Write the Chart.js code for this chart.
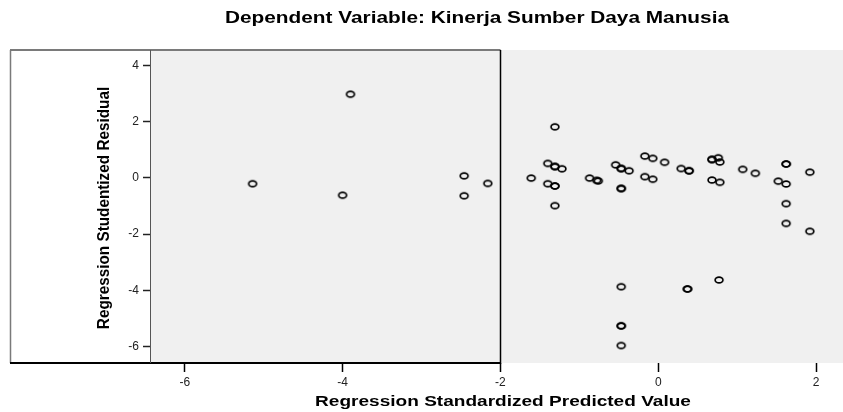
<!DOCTYPE html>
<html>
<head>
<meta charset="utf-8">
<script src="https://cdn.jsdelivr.net/npm/chart.js@4.4.0/dist/chart.umd.min.js"></script>
<style>
  html, body { margin: 0; padding: 0; background: #ffffff; }
  #wrap { width: 843px; height: 412px; }
</style>
</head>
<body>
<div id="wrap"><canvas id="chart" width="843" height="412"></canvas></div>
<script>
// ===== DATA =====
const chartTitle = 'Dependent Variable: Kinerja Sumber Daya Manusia';
const xTitle = 'Regression Standardized Predicted Value';
const yTitle = 'Regression Studentized Residual';
const xTicks = [-6, -4, -2, 0, 2];
const yTicks = [-6, -4, -2, 0, 2, 4];

// standardized predicted values (x) and studentized residuals (y)
const predicted = [
    -5.14, -3.90, -4.00, -2.46, -2.46, -2.16,
    -1.61, -1.40, -1.31, -1.31, -1.22, -1.40, -1.31, -1.31, -1.31, -1.31,
    -0.87, -0.78, -0.76, -0.54, -0.47, -0.47, -0.37, -0.47, -0.47,
    -0.17, -0.07, 0.08, -0.17, -0.07, 0.29, 0.39, 0.39,
    0.68, 0.68, 0.76, 0.78, 0.68, 0.78, 1.07, 1.23,
    1.62, 1.62, 1.52, 1.62, 1.92, 1.62, 1.62, 1.92,
    -0.47, 0.37, 0.37, 0.77, -0.47, -0.47, -0.47
];
const residual = [
    -0.21, 2.97, -0.62, 0.07, -0.64, -0.20,
    -0.01, 0.51, 0.40, 0.40, 0.32, -0.21, -0.29, -0.29, 1.81, -0.99,
    -0.01, -0.09, -0.11, 0.46, 0.33, 0.33, 0.25, -0.38, -0.38,
    0.77, 0.69, 0.55, 0.04, -0.05, 0.33, 0.25, 0.25,
    0.65, 0.65, 0.71, 0.56, -0.08, -0.16, 0.30, 0.16,
    0.49, 0.49, -0.12, -0.22, 0.20, -0.92, -1.62, -1.90,
    -3.87, -3.95, -3.95, -3.63, -5.26, -5.26, -5.96
];

const FONT = '"Liberation Sans", Arial, sans-serif';

// ===== MARKER =====
// small open ellipse like the SPSS marker (picture is stretched sideways)
function make_marker() {
    const c = document.createElement('canvas');
    c.width = 12;
    c.height = 10;
    const g = c.getContext('2d');
    g.strokeStyle = '#000000';
    g.lineWidth = 1.7;
    g.beginPath();
    g.ellipse(6, 5, 3.9, 2.9, 0, 0, Math.PI * 2);
    g.stroke();
    return c;
}

// draw text stretched horizontally (as in the reference)
function stretched_text(ctx, text, x, y, size, sx) {
    ctx.save();
    ctx.translate(x, y);
    ctx.scale(sx, 1);
    ctx.font = 'bold ' + size + 'px ' + FONT;
    ctx.fillText(text, 0, 0);
    ctx.restore();
}

// ===== PLUGINS =====
const frame_plugin = {
    id: 'frame',
    beforeDraw(chart) {
        const { ctx, chartArea } = chart;
        ctx.save();
        ctx.fillStyle = '#f0f0f0';
        ctx.fillRect(chartArea.left, chartArea.top,
                     chart.width - chartArea.left, chartArea.bottom - chartArea.top);
        ctx.restore();
    },
    afterDraw(chart) {
        const { ctx, chartArea, scales } = chart;
        const xr = Math.round(scales.x.getPixelForValue(-2)) + 0.5;
        const top = chartArea.top;
        const bottom = chartArea.bottom;
        ctx.save();
        // top border
        ctx.strokeStyle = '#7a7a7a';
        ctx.lineWidth = 2;
        ctx.beginPath();
        ctx.moveTo(10, top);
        ctx.lineTo(xr, top);
        ctx.stroke();
        // left outer border
        ctx.lineWidth = 1.5;
        ctx.beginPath();
        ctx.moveTo(10.5, top);
        ctx.lineTo(10.5, bottom);
        ctx.stroke();
        // bottom border
        ctx.strokeStyle = '#000000';
        ctx.lineWidth = 2;
        ctx.beginPath();
        ctx.moveTo(10, bottom);
        ctx.lineTo(xr, bottom);
        ctx.stroke();
        // right border (at x = -2)
        ctx.lineWidth = 1.5;
        ctx.beginPath();
        ctx.moveTo(xr, top);
        ctx.lineTo(xr, bottom + 1);
        ctx.stroke();
        // y axis line
        ctx.strokeStyle = '#555555';
        ctx.lineWidth = 1;
        ctx.beginPath();
        ctx.moveTo(chartArea.left + 0.5, top);
        ctx.lineTo(chartArea.left + 0.5, bottom);
        ctx.stroke();

        // texts
        ctx.fillStyle = '#000000';
        ctx.textAlign = 'center';
        ctx.textBaseline = 'middle';
        stretched_text(ctx, chartTitle, 477, 19, 16, 1.3);
        stretched_text(ctx, xTitle, 503, 402, 15, 1.27);
        // y title: rotated, glyphs slightly widened sideways
        ctx.translate(104, 208);
        ctx.rotate(-Math.PI / 2);
        ctx.scale(1.02, 1.1);
        ctx.font = 'bold 15px ' + FONT;
        ctx.fillText(yTitle, 0, 0);
        ctx.restore();
    }
};

// ===== CHART =====
function init_chart() {
    const ctx = document.getElementById('chart').getContext('2d');
    const points = predicted.map((x, i) => ({ x: x, y: residual[i] }));
    const marker = make_marker();

    new Chart(ctx, {
        type: 'scatter',
        data: {
            datasets: [{
                data: points,
                pointStyle: marker,
                pointRadius: 4,
                pointHoverRadius: 4
            }]
        },
        options: {
            responsive: false,
            animation: false,
            layout: { padding: { left: 10, right: 0, top: 50, bottom: 0 } },
            plugins: {
                legend: { display: false },
                tooltip: { enabled: false }
            },
            scales: {
                x: {
                    type: 'linear',
                    min: -6.44,
                    max: 2.277,
                    afterBuildTicks: (scale) => {
                        scale.ticks = xTicks.map(v => ({ value: v }));
                    },
                    afterFit: (scale) => { scale.height = 49; },
                    border: { display: false },
                    grid: {
                        drawOnChartArea: false,
                        drawTicks: true,
                        tickLength: 9,
                        tickWidth: 1.5,
                        tickColor: '#000000'
                    },
                    ticks: {
                        color: '#222222',
                        padding: 3,
                        maxRotation: 0,
                        font: { family: FONT, size: 12 }
                    }
                },
                y: {
                    type: 'linear',
                    min: -6.58,
                    max: 4.54,
                    afterBuildTicks: (scale) => {
                        scale.ticks = yTicks.map(v => ({ value: v }));
                    },
                    afterFit: (scale) => { scale.width = 140; },
                    border: { display: false },
                    grid: {
                        drawOnChartArea: false,
                        drawTicks: true,
                        tickLength: 7,
                        tickWidth: 1.5,
                        tickColor: '#222222'
                    },
                    ticks: {
                        color: '#222222',
                        padding: 4,
                        font: { family: FONT, size: 12 }
                    }
                }
            }
        },
        plugins: [frame_plugin]
    });
}

window.addEventListener('load', () => {
    init_chart();
});
</script>
</body>
</html>
